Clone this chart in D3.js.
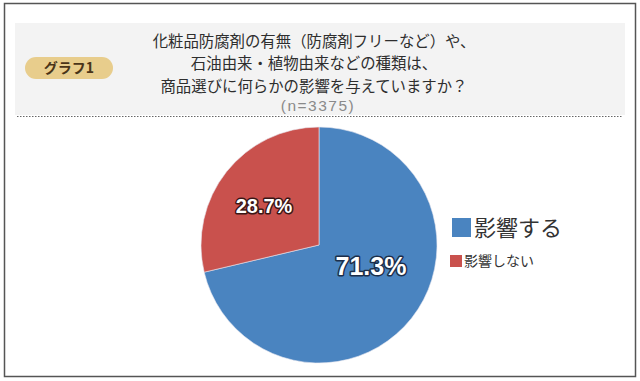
<!DOCTYPE html>
<html><head><meta charset="utf-8">
<script src="https://cdn.jsdelivr.net/npm/d3@7"></script>
<style>body{margin:0;background:#fff}</style>
</head><body>
<script>
const categories = ["影響する", "影響しない"];
const values = [71.3, 28.7];
const labels = ["71.3%", "28.7%"];
const colors = ["#4a84c0", "#c9514d"];
const titleLines = ["化粧品防腐剤の有無（防腐剤フリーなど）や、", "石油由来・植物由来などの種類は、", "商品選びに何らかの影響を与えていますか？"];
const sampleNote = "(n=3375)";
const badgeText = "グラフ1";

const W = 640, H = 381;
const svg = d3.select("body").append("svg").attr("width", W).attr("height", H);
const jp = "'Noto Sans CJK JP', 'Noto Sans', sans-serif";

// frame
svg.append("rect").attr("x", 4.5).attr("y", 3.5).attr("width", 631).attr("height", 373)
  .attr("fill", "#fff").attr("stroke", "#555").attr("stroke-width", 1.5);

// header
svg.append("rect").attr("x", 15).attr("y", 23).attr("width", 610).attr("height", 92).attr("fill", "#f3f3f3");
svg.append("line").attr("x1", 17).attr("x2", 622).attr("y1", 116.5).attr("y2", 116.5)
  .attr("stroke", "#666").attr("stroke-width", 1).attr("stroke-dasharray", "1.5,1.5");

svg.append("rect").attr("x", 25).attr("y", 57).attr("width", 88).attr("height", 22).attr("rx", 11)
  .attr("fill", "#e8cd8c");
svg.append("text").attr("x", 69).attr("y", 68).attr("dy", "0.36em").attr("text-anchor", "middle")
  .attr("font-family", jp).attr("font-weight", "bold").attr("font-size", 14).attr("fill", "#4a3418")
  .text(badgeText);

const lineY = [41, 63.5, 86];
titleLines.forEach((t, i) => {
  svg.append("text").attr("x", 314).attr("y", lineY[i]).attr("dy", "0.36em").attr("text-anchor", "middle")
    .attr("font-family", jp).attr("font-size", 15.4).attr("fill", "#2e2e2e").text(t);
});
svg.append("text").attr("x", 318).attr("y", 105).attr("dy", "0.36em").attr("text-anchor", "middle")
  .attr("font-family", "'Liberation Sans', Arial, sans-serif").attr("font-size", 15.5)
  .attr("letter-spacing", 1.5).attr("fill", "#8a8a8a").text(sampleNote);

// pie
const cx = 319, cy = 245, R = 118;
const pie = d3.pie().sort(null).value(d => d)(values);
const arc = d3.arc().innerRadius(0).outerRadius(R);
const g = svg.append("g").attr("transform", `translate(${cx},${cy})`);
g.selectAll("path").data(pie).join("path")
  .attr("d", arc).attr("fill", (d, i) => colors[i])
  .attr("stroke", "#e8e8f0").attr("stroke-width", 0.6);

const labelPos = [[52, 21], [-55, -39]];
const labelSize = [25, 20];
const outline = ["#1c2e4a", "#3a1616"];
pie.forEach((d, i) => {
  g.append("text").attr("x", labelPos[i][0]).attr("y", labelPos[i][1]).attr("dy", "0.36em")
    .attr("text-anchor", "middle").attr("font-family", "'Liberation Sans', Arial, sans-serif")
    .attr("font-weight", "bold").attr("font-size", labelSize[i])
    .attr("fill", "#fff").attr("stroke", outline[i]).attr("stroke-width", 3)
    .attr("paint-order", "stroke").attr("stroke-linejoin", "round")
    .text(labels[i]);
});

// legend
const leg = [
  {x: 452, y: 218, s: 19, fs: 22, tx: 474, ty: 228},
  {x: 450, y: 255, s: 12, fs: 14, tx: 464, ty: 261}
];
categories.forEach((c, i) => {
  svg.append("rect").attr("x", leg[i].x).attr("y", leg[i].y).attr("width", leg[i].s).attr("height", leg[i].s)
    .attr("fill", colors[i]);
  svg.append("text").attr("x", leg[i].tx).attr("y", leg[i].ty).attr("dy", "0.36em")
    .attr("font-family", jp).attr("font-size", leg[i].fs).attr("fill", "#333").text(c);
});
</script>
</body></html>
